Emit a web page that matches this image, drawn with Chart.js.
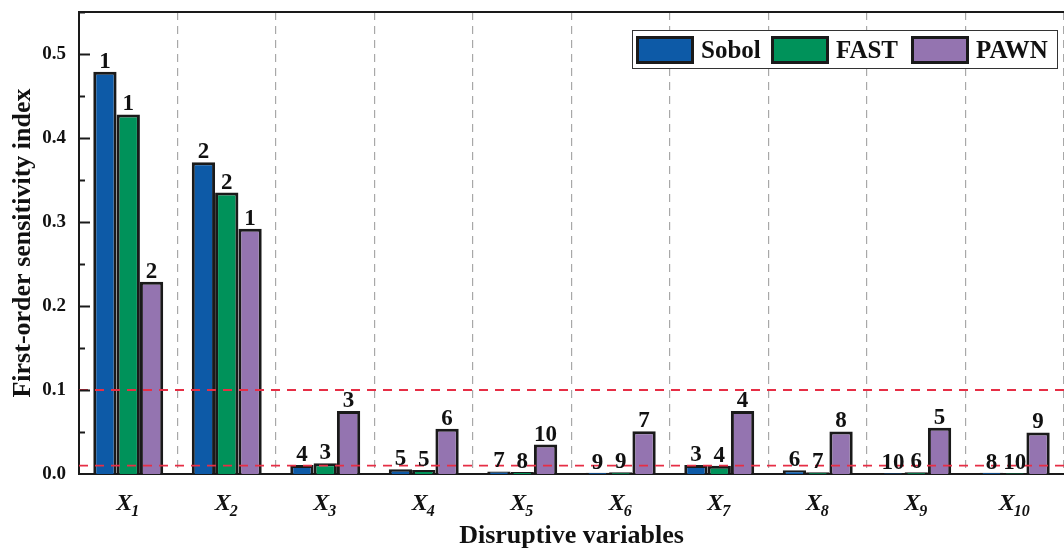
<!DOCTYPE html>
<html>
<head>
<meta charset="utf-8">
<script src="https://cdn.jsdelivr.net/npm/chart.js@4"></script>
<style>
    html, body { margin: 0; padding: 0; background: #fff; }
    #wrap { width: 1064px; height: 552px; position: relative; }
</style>
</head>
<body>
<div id="wrap"><canvas id="sensChart"></canvas></div>
<script>
// Данные графика
const categories = ['1', '2', '3', '4', '5', '6', '7', '8', '9', '10'];
const sobolValues = [0.479, 0.371, 0.0107, 0.0056, 0.003, 0.0015, 0.0107, 0.0044, 0.001, 0.0015];
const fastValues = [0.428, 0.335, 0.0127, 0.0048, 0.0025, 0.002, 0.0099, 0.002, 0.002, 0.001];
const pawnValues = [0.229, 0.292, 0.075, 0.054, 0.035, 0.051, 0.075, 0.0507, 0.055, 0.0495];
const sobolRanks = ['1', '2', '4', '5', '7', '9', '3', '6', '10', '8'];
const fastRanks = ['1', '2', '3', '5', '8', '9', '4', '7', '6', '10'];
const pawnRanks = ['2', '1', '3', '6', '10', '7', '4', '8', '5', '9'];
const yTicks = [0, 0.1, 0.2, 0.3, 0.4, 0.5];
const thresholds = [0.1, 0.01];

const serif = '"Liberation Serif", "Times New Roman", serif';
const edge = '#1a1a1a';

// Пороговые линии и подписи рангов над столбцами
const rankLabels = {
    id: 'rankLabels',
    afterDatasetsDraw(chart) {
        const ctx = chart.ctx;
        const yScale = chart.scales.y;
        ctx.save();
        ctx.strokeStyle = '#e62e45';
        ctx.lineWidth = 1.8;
        ctx.setLineDash([9, 7]);
        thresholds.forEach(t => {
            const y = yScale.getPixelForValue(t);
            ctx.beginPath();
            ctx.moveTo(chart.chartArea.left, y);
            ctx.lineTo(chart.chartArea.right, y);
            ctx.stroke();
        });
        ctx.setLineDash([]);

        ctx.fillStyle = '#111';
        ctx.font = 'bold 23px ' + serif;
        ctx.textAlign = 'center';
        ctx.textBaseline = 'alphabetic';
        chart.data.datasets.forEach((ds, di) => {
            const meta = chart.getDatasetMeta(di);
            meta.data.forEach((bar, i) => {
                ctx.fillText(ds.ranks[i], bar.x, bar.y - 4);
            });
        });
        ctx.restore();
    }
};

// Рамка, засечки осей, подписи X и легенда
const decorations = {
    id: 'decorations',
    afterDraw(chart) {
        const ctx = chart.ctx;
        const area = chart.chartArea;
        const yScale = chart.scales.y;
        const xScale = chart.scales.x;
        ctx.save();

        // верхняя рамка
        ctx.strokeStyle = edge;
        ctx.lineWidth = 2;
        ctx.beginPath();
        ctx.moveTo(area.left, area.top);
        ctx.lineTo(area.right, area.top);
        ctx.stroke();

        // засечки внутрь
        for (let v = 0.05; v < 0.55; v += 0.05) {
            const y = Math.round(yScale.getPixelForValue(v)) + 0.5;
            const major = Math.abs(v * 10 - Math.round(v * 10)) < 1e-6;
            ctx.beginPath();
            ctx.moveTo(area.left, y);
            ctx.lineTo(area.left + (major ? 11 : 6), y);
            ctx.stroke();
        }

        // подписи категорий X с индексом
        ctx.fillStyle = '#111';
        ctx.textBaseline = 'alphabetic';
        categories.forEach((c, i) => {
            const cx = xScale.getPixelForValue(i);
            ctx.font = 'italic bold 24px ' + serif;
            const w1 = ctx.measureText('X').width;
            ctx.font = 'italic bold 16px ' + serif;
            const w2 = ctx.measureText(c).width;
            const start = cx - (w1 + w2) / 2;
            ctx.font = 'italic bold 24px ' + serif;
            ctx.textAlign = 'left';
            ctx.fillText('X', start, 510);
            ctx.font = 'italic bold 16px ' + serif;
            ctx.fillText(c, start + w1 - 1, 516);
        });

        // легенда
        const lx = 632, ly = 30, lw = 425, lh = 38;
        ctx.fillStyle = '#fff';
        ctx.fillRect(lx, ly, lw, lh);
        ctx.strokeStyle = '#333';
        ctx.lineWidth = 1;
        ctx.strokeRect(lx + 0.5, ly + 0.5, lw, lh);
        const itemX = [636, 771, 911];
        ctx.font = 'bold 25px ' + serif;
        chart.data.datasets.forEach((ds, di) => {
            const x = itemX[di];
            ctx.fillStyle = ds.backgroundColor;
            ctx.fillRect(x, 36, 58, 28);
            ctx.strokeStyle = edge;
            ctx.lineWidth = 3;
            ctx.strokeRect(x + 1.5, 37.5, 55, 25);
            ctx.fillStyle = '#111';
            ctx.textAlign = 'left';
            ctx.fillText(ds.label, x + 65, 58);
        });
        ctx.restore();
    }
};

function makeDataset(label, values, ranks, color) {
    return {
        label: label,
        data: values,
        ranks: ranks,
        backgroundColor: color,
        borderColor: edge,
        borderWidth: 3,
        barPercentage: 1.0,
        categoryPercentage: 0.71
    };
}

document.addEventListener('DOMContentLoaded', function() {
    new Chart(document.getElementById('sensChart'), {
        type: 'bar',
        data: {
            labels: categories,
            datasets: [
                makeDataset('Sobol', sobolValues, sobolRanks, '#0d5aa7'),
                makeDataset('FAST', fastValues, fastRanks, '#00925a'),
                makeDataset('PAWN', pawnValues, pawnRanks, '#9474b0')
            ]
        },
        options: {
            responsive: true,
            maintainAspectRatio: false,
            animation: false,
            layout: { padding: { top: 12, right: 0, left: 0, bottom: 0 } },
            plugins: {
                legend: { display: false },
                tooltip: { enabled: false }
            },
            scales: {
                x: {
                    afterFit: scale => { scale.height = 78; },
                    grid: {
                        display: true,
                        offset: true,
                        drawTicks: false,
                        color: '#a8a8a8',
                        lineWidth: 1.2
                    },
                    border: { display: true, color: edge, width: 2, dash: [8, 6] },
                    ticks: { display: false },
                    title: {
                        display: true,
                        text: 'Disruptive variables',
                        color: '#111',
                        font: { family: serif, size: 26, weight: 'bold' },
                        padding: { top: 0, bottom: 0 }
                    }
                },
                y: {
                    min: 0,
                    max: 0.55,
                    afterFit: scale => {
                        scale.width = 79;
                        scale.paddingTop = 0;
                        scale.paddingBottom = 0;
                    },
                    afterBuildTicks: scale => {
                        scale.ticks = yTicks.map(v => ({ value: v }));
                    },
                    grid: { display: false, drawTicks: false },
                    border: { display: true, color: edge, width: 2 },
                    ticks: {
                        padding: 13,
                        color: '#111',
                        font: { family: serif, size: 19, weight: 'bold' },
                        callback: v => v.toFixed(1)
                    },
                    title: {
                        display: true,
                        text: 'First-order sensitivity index',
                        color: '#111',
                        font: { family: serif, size: 26, weight: 'bold' },
                        padding: { top: 8, bottom: 0 }
                    }
                }
            }
        },
        plugins: [rankLabels, decorations]
    });
});
</script>
</body>
</html>
